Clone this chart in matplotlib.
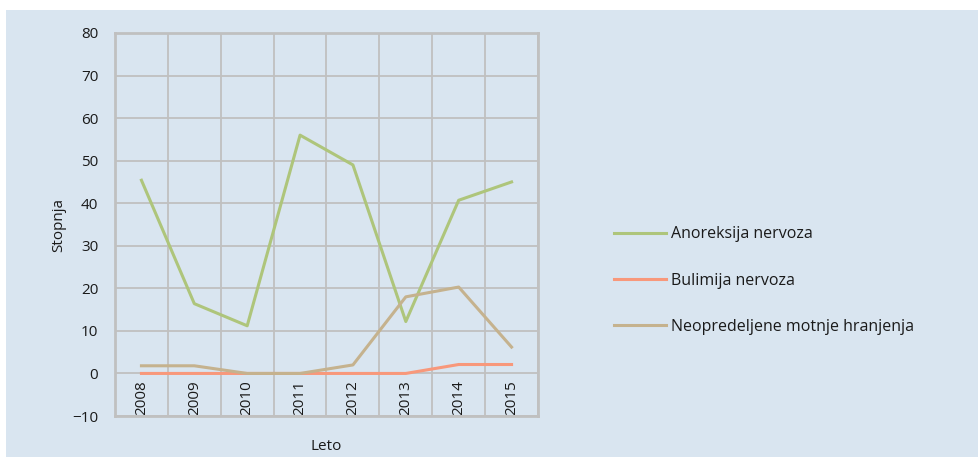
import matplotlib
matplotlib.use("Agg")
import matplotlib.pyplot as plt
from matplotlib.patches import Rectangle
from matplotlib.ticker import MultipleLocator, FixedLocator

years = ["2008", "2009", "2010", "2011", "2012", "2013", "2014", "2015"]
anoreksija = [45.4, 16.4, 11.2, 56.0, 49.0, 12.2, 40.7, 45.0]
bulimija = [0, 0, 0, 0, 0, 0, 2.1, 2.1]
neopredeljene = [1.8, 1.8, 0, 0, 2.0, 18.0, 20.3, 6.2]
series_names = ["Anoreksija nervoza", "Bulimija nervoza", "Neopredeljene motnje hranjenja"]

plt.rcParams['font.family'] = ['Open Sans', 'DejaVu Sans']
BG = '#d9e5f0'
GRID = '#c0c0c0'
TXT = '#1a1a1a'

fig = plt.figure(figsize=(9.79, 4.57), dpi=100)
fig.patch.set_facecolor('white')
fig.patches.append(Rectangle((6/979, 0), 1 - 6/979, 1 - 10/457, transform=fig.transFigure,
                             facecolor=BG, edgecolor='none', zorder=-10))

ymin, ymax = -10, 80
ax = fig.add_axes([115/979, 1 - 416/457, (538 - 115)/979, (416 - 33)/457])
ax.set_facecolor(BG)
x = list(range(len(years)))
ax.plot(x, anoreksija, color='#aec57b', lw=2.2, label=series_names[0], zorder=3)
ax.plot(x, bulimija, color='#f8987b', lw=2.2, label=series_names[1], zorder=3)
ax.plot(x, neopredeljene, color='#c5b28e', lw=2.2, label=series_names[2], zorder=3)

ax.set_xlim(-0.5, len(years) - 0.5)
ax.set_ylim(ymin, ymax)
ax.yaxis.set_major_locator(MultipleLocator(10))
ax.set_xticks(x)
ax.set_xticklabels([])
ax.xaxis.set_minor_locator(FixedLocator([i - 0.5 for i in range(len(years) + 1)]))
ax.grid(True, which='minor', axis='x', color=GRID, lw=1.3)
ax.grid(True, which='major', axis='y', color=GRID, lw=1.3)
ax.tick_params(axis='both', which='both', length=0, labelsize=11, colors=TXT)
ax.tick_params(axis='y', pad=12)
for s in ax.spines.values():
    s.set_color(GRID)
    s.set_linewidth(2)
ax.set_axisbelow(True)

# category labels sit at the zero line (axis crosses at 0)
sec = ax.secondary_xaxis((0 - ymin) / (ymax - ymin))
sec.set_xticks(x)
sec.set_xticklabels(years, rotation=90)
sec.tick_params(length=0, labelsize=11, colors=TXT, pad=5)
sec.spines['bottom'].set_visible(False)

ax.set_ylabel('Stopnja', fontsize=11, labelpad=4, color=TXT)
ax.set_xlabel('Leto', fontsize=11, labelpad=13, color=TXT)

fig.legend(loc='upper left', bbox_to_anchor=(600/979, 1 - 212/457), frameon=False,
           fontsize=11.5, handlelength=3.25, handletextpad=0.3, labelspacing=1.9,
           labelcolor=TXT)

fig.savefig('out.png', dpi=100, facecolor=fig.get_facecolor())
